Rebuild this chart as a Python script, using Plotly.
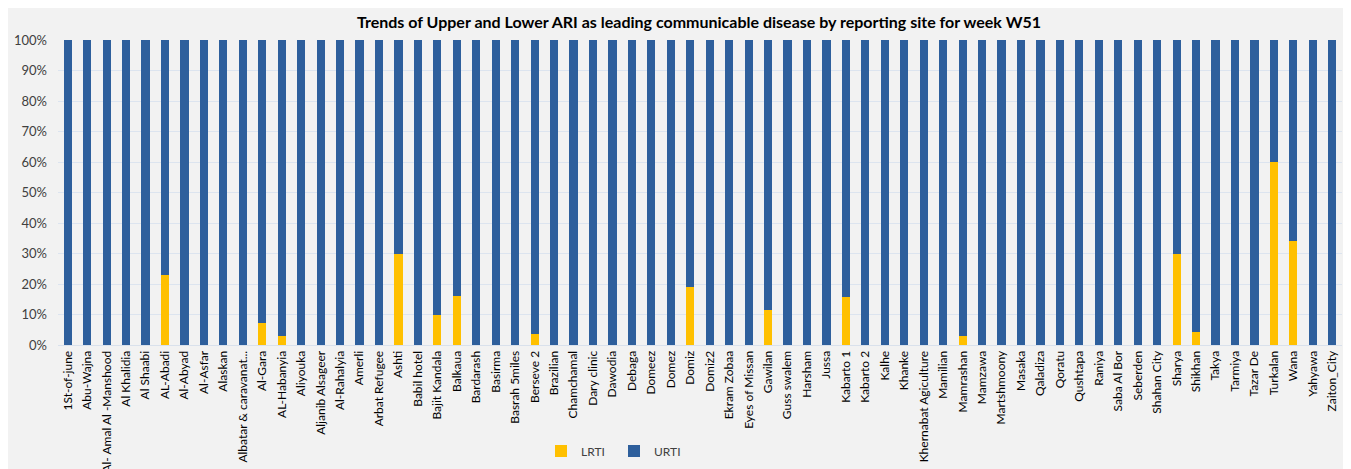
import plotly.graph_objects as go

sites = ["1St-of-june", "Abu-Wajna", "Al- Amal Al -Manshood", "Al Khalidia", "Al Shaabi",
         "AL-Abadi", "Al-Abyad", "Al-Asfar", "Alaskan", "Albatar & caravanat...",
         "Al-Gara", "AL-Habanyia", "Aliyouka", "Aljanib Alsageer", "Al-Rahalyia",
         "Amerli", "Arbat Refugee", "Ashti", "Babil hotel", "Bajit Kandala",
         "Balkaua", "Bardarash", "Basirma", "Basrah 5miles", "Berseve 2",
         "Brazilian", "Chamchamal", "Dary clinic", "Dawodia", "Debaga",
         "Domeez", "Domez", "Domiz", "Domiz2", "Ekram Zobaa",
         "Eyes of Missan", "Gawilan", "Guss swalem", "Harsham", "Jussa",
         "Kabarto 1", "Kabarto 2", "Kalhe", "Khanke", "Khernabat Agiculture",
         "Mamilian", "Mamrashan", "Mamzawa", "Martshmoony", "Masaka",
         "Qaladiza", "Qoratu", "Qushtapa", "Raniya", "Saba Al Bor",
         "Seberden", "Shahan City", "Sharya", "Shikhan", "Takya",
         "Tarmiya", "Tazar De", "Turkalan", "Wana", "Yahyawa", "Zaiton_City"]

lrti_pct = [0, 0, 0, 0, 0,
            23, 0, 0, 0, 0,
            7.1, 3.0, 0, 0, 0,
            0, 0, 30, 0, 9.8,
            16, 0, 0, 0, 3.7,
            0, 0, 0, 0, 0,
            0, 0, 18.9, 0, 0,
            0, 11.6, 0, 0, 0,
            15.6, 0, 0, 0, 0,
            0, 2.9, 0, 0, 0,
            0, 0, 0, 0, 0,
            0, 0, 30, 4.4, 0,
            0, 0, 60, 34.2, 0, 0]

urti_pct = [100 - v for v in lrti_pct]

y_ticks = [0, 10, 20, 30, 40, 50, 60, 70, 80, 90, 100]

fig = go.Figure()
fig.add_trace(go.Bar(x=sites, y=[v / 100 for v in lrti_pct], name="LRTI",
                     marker=dict(color="#ffc000", line=dict(width=0))))
fig.add_trace(go.Bar(x=sites, y=[v / 100 for v in urti_pct], name="URTI",
                     marker=dict(color="#2e5f9c", line=dict(width=0))))

# page offset of the figure (body margin)
OFF = 8
W, H = 1351 - OFF, 469 - OFF
L, R, T, B = 58 - OFF, 1342 - OFF, 40 - OFF, 345 - OFF
pw, ph = R - L, B - T
def px(x):
    return (x - OFF - L) / pw
def py(y):
    return (B - (y - OFF)) / ph

fig.update_layout(
    barmode="stack",
    bargap=0.58,
    width=W, height=H,
    margin=dict(l=L, r=W - R, t=T, b=H - B, autoexpand=False),
    paper_bgcolor="#f2f2f2",
    plot_bgcolor="#f2f2f2",
    title=dict(text="<b>Trends of Upper and Lower ARI as leading communicable disease by reporting site for week W51</b>",
               x=px(699), xref="paper", xanchor="center", y=1 - (22 - OFF) / H, yanchor="middle",
               font=dict(family="Lato, Liberation Sans, Arial", size=16, color="#000000")),
    font=dict(family="Lato, Liberation Sans, Arial", color="#404040"),
    legend=dict(orientation="h", x=px(541), xanchor="left", y=py(451), yanchor="middle",
                font=dict(size=12, color="#404040"), bgcolor="rgba(0,0,0,0)",
                traceorder="normal", itemwidth=30, entrywidth=28, entrywidthmode="pixels"),
    showlegend=True,
)
fig.update_xaxes(tickangle=-90, tickfont=dict(size=12, color="#000000"),
                 showgrid=False, showline=True, linecolor="#d9e1ec", ticks="",
                 range=[-0.5, len(sites) - 0.5])
fig.update_yaxes(range=[0, 1], tickvals=[v / 100 for v in y_ticks],
                 ticktext=[f"{v}%" for v in y_ticks],
                 tickfont=dict(size=13, color="#404040"),
                 showgrid=True, gridcolor="#dce4ef", gridwidth=1, zeroline=False,
                 showline=False, ticks="", ticklabelstandoff=10)

fig.write_html("out.html")
